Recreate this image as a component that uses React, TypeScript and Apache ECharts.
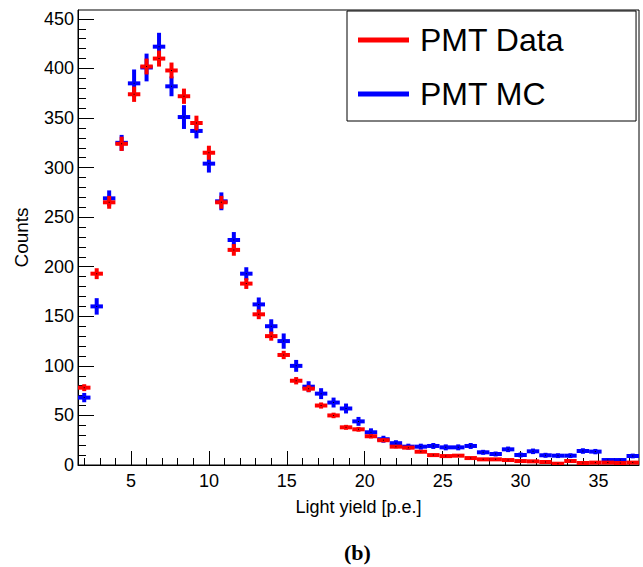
import React, { useEffect, useRef } from "react";
import * as echarts from "echarts";

const binCenters = [
  2.0, 2.8, 3.6, 4.4, 5.2, 6.0, 6.8, 7.6, 8.4, 9.2, 10.0, 10.8, 11.6, 12.4, 13.2,
  14.0, 14.8, 15.6, 16.4, 17.2, 18.0, 18.8, 19.6, 20.4, 21.2, 22.0, 22.8, 23.6,
  24.4, 25.2, 26.0, 26.8, 27.6, 28.4, 29.2, 30.0, 30.8, 31.6, 32.4, 33.2, 34.0,
  34.8, 35.6, 36.4, 37.2,
];
const binWidth = 0.8;

const dataValues = [
  78, 193, 265, 324, 374, 402, 410, 398, 372, 345, 315, 265, 217, 183, 152, 130,
  111, 85, 77, 60, 50, 38, 36, 29, 25, 18.5, 17.5, 13.4, 10, 9, 9.4, 7, 5.7, 5.7,
  5, 4, 3.7, 3, 1.3, 4, 2, 2.4, 2.4, 2, 2.4,
];
const dataErrors = [
  3.5, 5.5, 6.5, 7.2, 7.7, 8, 8.1, 8, 7.7, 7.4, 7.1, 6.5, 5.9, 5.4, 4.9, 4.6, 4.2,
  3.7, 3.5, 3.1, 2.8, 2.5, 2.4, 2.2, 2, 1.7, 1.7, 1.5, 1.3, 1.2, 1.2, 1.1, 1, 1,
  0.9, 0.8, 0.8, 0.7, 0.5, 0.8, 0.6, 0.6, 0.6, 0.6, 0.6,
];

const mcValues = [
  68, 160, 269, 325, 385, 401, 422, 382, 351, 337, 304, 266, 227, 193, 162, 140,
  125, 100, 79, 72, 63, 57, 44, 33, 26, 22, 18.5, 18.5, 19.2, 17.8, 17.8, 19.2,
  12.8, 11.1, 15.8, 10.1, 13.8, 9.8, 9.4, 9.4, 14.1, 13.5, 5, 5, 9.1,
];
const mcErrors = [
  4.7, 8.3, 8, 8, 14, 14, 14, 10, 12, 7.5, 9, 9, 8, 6.5, 7, 7, 7.7, 6, 5.5, 5.5, 5,
  5, 4.5, 4, 3.5, 3, 3, 3, 3, 3, 3, 3, 2.5, 2.5, 2.8, 2.5, 2.8, 2.5, 2.4, 2.4, 2.8,
  2.7, 1.8, 1.8, 2.4,
];

const xMajorTicks = [5, 10, 15, 20, 25, 30, 35];
const xMinorTicks = [
  2, 3, 4, 5, 6, 7, 8, 9, 10, 11, 12, 13, 14, 15, 16, 17, 18, 19, 20, 21, 22, 23,
  24, 25, 26, 27, 28, 29, 30, 31, 32, 33, 34, 35, 36, 37,
];
const yMajorTicks = [0, 50, 100, 150, 200, 250, 300, 350, 400, 450];
const yMinorTicks = [
  0, 10, 20, 30, 40, 50, 60, 70, 80, 90, 100, 110, 120, 130, 140, 150, 160, 170,
  180, 190, 200, 210, 220, 230, 240, 250, 260, 270, 280, 290, 300, 310, 320, 330,
  340, 350, 360, 370, 380, 390, 400, 410, 420, 430, 440, 450,
];

const FONT = "'Liberation Sans', Arial, Helvetica, sans-serif";

function makeSeries(name: string, color: string, values: number[], errors: number[]) {
  return {
    name,
    type: "custom",
    clip: true,
    itemStyle: { color },
    data: binCenters.map((x, i) => [x, values[i], errors[i]]),
    encode: { x: 0, y: 1 },
    renderItem: (params: any, api: any) => {
      const x = api.value(0);
      const y = api.value(1);
      const e = api.value(2);
      const pL = api.coord([x - binWidth / 2, y]);
      const pR = api.coord([x + binWidth / 2, y]);
      const pT = api.coord([x, y + e]);
      const pB = api.coord([x, y - e]);
      const pC = api.coord([x, y]);
      return {
        type: "group",
        children: [
          {
            type: "line",
            shape: { x1: pL[0], y1: pL[1], x2: pR[0], y2: pR[1] },
            style: { stroke: color, lineWidth: 4 },
          },
          {
            type: "line",
            shape: { x1: pT[0], y1: pT[1], x2: pB[0], y2: pB[1] },
            style: { stroke: color, lineWidth: 4 },
          },
          {
            type: "rect",
            shape: { x: pC[0] - 0.5, y: pC[1] - 0.5, width: 1, height: 1 },
            style: { fill: "#000" },
          },
        ],
      };
    },
  };
}

export default function App() {
  const ref = useRef<HTMLDivElement>(null);
  useEffect(() => {
    if (!ref.current) return;
    const chart = echarts.init(ref.current, null, { renderer: "svg" });
    chart.setOption({
      animation: false,
      backgroundColor: "#fff",
      title: {
        text: "(b)",
        left: 344,
        top: 541,
        padding: 0,
        textStyle: {
          fontFamily: "'Liberation Serif', 'Times New Roman', serif",
          fontWeight: "bold",
          fontSize: 22,
          color: "#000",
        },
      },
      legend: {
        orient: "vertical",
        left: 347,
        top: 11,
        itemWidth: 51,
        itemHeight: 5,
        itemGap: 22,
        icon: "rect",
        padding: [13, 72, 11, 11],
        backgroundColor: "#fff",
        borderColor: "#000",
        borderWidth: 1,
        data: [
          { name: "PMT Data", itemStyle: { color: "#ff0000" } },
          { name: "PMT MC", itemStyle: { color: "#0000ff" } },
        ],
        textStyle: { fontSize: 32, color: "#000", fontFamily: FONT, padding: [0, 0, 0, 6] },
      },
      grid: {
        left: 78,
        right: 4,
        top: 10,
        bottom: 102,
        show: true,
        borderColor: "#000",
        borderWidth: 1,
        backgroundColor: "transparent",
      },
      xAxis: [
        {
          type: "value",
          min: 1.6,
          max: 37.6,
          position: "bottom",
          name: "Light yield [p.e.]",
          nameLocation: "middle",
          nameGap: 33,
          nameTextStyle: { fontSize: 18, color: "#000", fontFamily: FONT },
          axisLine: { show: true, lineStyle: { color: "#000", width: 1 } },
          axisTick: {
            show: true,
            inside: true,
            length: 14,
            customValues: xMajorTicks,
            lineStyle: { color: "#000" },
          },
          axisLabel: {
            show: true,
            customValues: xMajorTicks,
            fontSize: 18,
            color: "#000",
            fontFamily: FONT,
            margin: 7,
          },
          splitLine: { show: false },
        },
        {
          type: "value",
          min: 1.6,
          max: 37.6,
          position: "bottom",
          axisLine: { show: false },
          axisTick: {
            show: true,
            inside: true,
            length: 7,
            customValues: xMinorTicks,
            lineStyle: { color: "#000" },
          },
          axisLabel: { show: false },
          splitLine: { show: false },
        },
      ],
      yAxis: [
        {
          type: "value",
          min: 0,
          max: 459,
          position: "left",
          name: "Counts",
          nameLocation: "middle",
          nameGap: 47,
          nameRotate: 90,
          nameTextStyle: { fontSize: 19, color: "#000", fontFamily: FONT },
          axisLine: { show: true, lineStyle: { color: "#000", width: 1 } },
          axisTick: {
            show: true,
            inside: true,
            length: 16,
            customValues: yMajorTicks,
            lineStyle: { color: "#000" },
          },
          axisLabel: {
            show: true,
            customValues: yMajorTicks,
            fontSize: 18,
            color: "#000",
            fontFamily: FONT,
            margin: 4,
          },
          splitLine: { show: false },
        },
        {
          type: "value",
          min: 0,
          max: 459,
          position: "left",
          axisLine: { show: false },
          axisTick: {
            show: true,
            inside: true,
            length: 8,
            customValues: yMinorTicks,
            lineStyle: { color: "#000" },
          },
          axisLabel: { show: false },
          splitLine: { show: false },
        },
      ],
      series: [
        makeSeries("PMT MC", "#0000ff", mcValues, mcErrors),
        makeSeries("PMT Data", "#ff0000", dataValues, dataErrors),
      ],
    });
    return () => chart.dispose();
  }, []);
  return (
    <div
      ref={ref}
      style={{ position: "absolute", left: 0, top: 0, width: 643, height: 567 }}
    />
  );
}
